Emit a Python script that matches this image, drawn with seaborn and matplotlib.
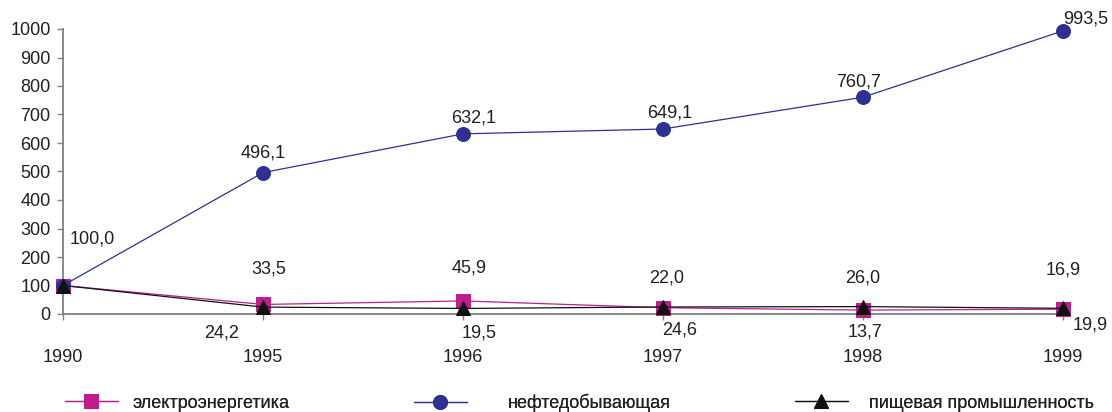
import matplotlib
matplotlib.use("Agg")
import matplotlib.pyplot as plt
import seaborn as sns
import pandas as pd

# data
years = ["1990", "1995", "1996", "1997", "1998", "1999"]
elektro = [100.0, 33.5, 45.9, 22.0, 13.7, 16.9]
neft = [100.0, 496.1, 632.1, 649.1, 760.7, 993.5]
pishch = [100.0, 24.2, 19.5, 24.6, 26.0, 19.9]
names = ["электроэнергетика", "нефтедобывающая", "пищевая промышленность"]

# label offsets in pixels (dx, dy), None = no label
off_elektro = [None, (6, 35), (6, 33), (4, 30), (2, -22), (0, 39)]
off_neft = [(29, 46), (0, 20), (11, 16), (7, 16), (-4, 15), (23, 12)]
off_pishch = [None, (-41, -26), (16, -25), (17, -23), (0, 29), (27, -17)]

# legend entry start (px) and gap handle->text (em)
leg_x = [65, 414, 795]
leg_pad = [0.83, 2.27, 1.16]


def main():
    sns.set_style("white")
    plt.rcParams["font.family"] = ["Liberation Sans", "DejaVu Sans"]
    fs = 13
    plt.rcParams["font.size"] = fs
    txt = "#231F20"

    fig = plt.figure(figsize=(11.12, 4.12), dpi=100)
    ax = fig.add_axes([63 / 1112, 1 - 314 / 412, 1000 / 1112, 285 / 412])

    df = pd.DataFrame({"year": years, names[0]: elektro, names[1]: neft, names[2]: pishch})
    styles = [
        (names[0], "#BE1E8C", "s", off_elektro),
        (names[1], "#2E3192", "o", off_neft),
        (names[2], "#111111", "^", off_pishch),
    ]
    for name, color, marker, offs in styles:
        sns.lineplot(data=df, x="year", y=name, ax=ax, color=color, marker=marker,
                     markersize=10, markeredgecolor=color, linewidth=0.9,
                     label=name, sort=False, clip_on=False)
        for i, v in enumerate(df[name]):
            if offs[i] is None:
                continue
            ax.annotate(f"{v:.1f}".replace(".", ","), xy=(i, v),
                        xytext=offs[i], textcoords="offset pixels",
                        ha="center", va="center", color=txt, fontsize=fs)

    ax.set_xlim(0, 5)
    ax.set_ylim(0, 1000)
    ax.set_yticks(range(0, 1001, 100))
    ax.set_xlabel("")
    ax.set_ylabel("")
    for s in ["top", "right"]:
        ax.spines[s].set_visible(False)
    for s in ["left", "bottom"]:
        ax.spines[s].set_color("#808080")
        ax.spines[s].set_linewidth(1.3)
        ax.spines[s].set_zorder(0)
    ax.tick_params(axis="y", left=True, length=4, width=1, color="#808080", pad=5, labelcolor=txt)
    ax.tick_params(axis="x", bottom=True, length=4, width=1, color="#808080", pad=21, labelcolor=txt)

    ax.get_legend().remove()
    handles, labels = ax.get_legend_handles_labels()
    for h, lab, x, pad in zip(handles, labels, leg_x, leg_pad):
        leg = fig.legend([h], [lab], loc="center left", bbox_to_anchor=(x / 1112, 9 / 412),
                         frameon=False, borderpad=0, borderaxespad=0,
                         handlelength=2.93, handletextpad=pad,
                         fontsize=fs, labelcolor=txt)
        fig.add_artist(leg)

    fig.savefig("out.png", dpi=100)


if __name__ == "__main__":
    main()
